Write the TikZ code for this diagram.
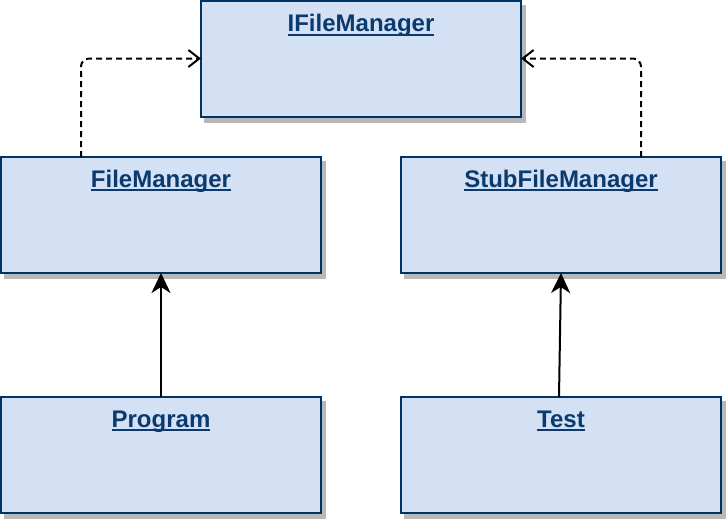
\documentclass[tikz,border=0pt]{standalone}
\usepackage{fontspec}
\setmainfont{Liberation Sans}
\usetikzlibrary{arrows.meta}
\definecolor{bordc}{HTML}{003366}
\definecolor{fillc}{HTML}{D4E1F5}
\definecolor{shadc}{HTML}{B8B8B8}
\definecolor{txtc}{HTML}{0B3A6E}
\tikzset{
  classbox/.style={draw=bordc, fill=fillc, line width=2pt, minimum width=320pt, minimum height=116pt, inner sep=0pt, outer sep=0pt},
  shadowbox/.style={draw=shadc, fill=shadc, line width=2pt, minimum width=320pt, minimum height=116pt, inner sep=0pt, outer sep=0pt},
  lbl/.style={inner sep=0pt, outer sep=0pt, text=txtc, font=\fontsize{24}{28}\selectfont\bfseries},
  uline/.style={draw=txtc, line width=2pt},
  realize/.style={draw=black, line width=2pt, dash pattern=on 6pt off 4pt, rounded corners=8pt, -{Straight Barb[length=11pt,width=17pt,line width=2pt]}},
  assoc/.style={draw=black, line width=2pt, -{Stealth[length=20pt,width=19pt,inset=6pt]}}
}
\begin{document}
\begin{tikzpicture}[x=1pt,y=-1pt]
\useasboundingbox (0,0) rectangle (726,520);
% shadows
\node[shadowbox] (IFMs) at (365,63.5) {};
\node[shadowbox] (FMs) at (165,220) {};
\node[shadowbox] (SFMs) at (565,220) {};
\node[shadowbox] (PRs) at (165,460) {};
\node[shadowbox] (TSs) at (565,460) {};
% boxes
\node[classbox] (IFM) at (361,58.5) {};
\node[classbox] (FM) at (161,215) {};
\node[classbox] (SFM) at (561,215) {};
\node[classbox] (PR) at (161,455) {};
\node[classbox] (TS) at (561,455) {};
% labels
\node[lbl, anchor=base] (IFMt) at ([yshift=-31pt]IFM.north) {IFileManager};
\node[lbl, anchor=base] (FMt) at ([yshift=-30pt]FM.north) {FileManager};
\node[lbl, anchor=base] (SFMt) at ([yshift=-30pt]SFM.north) {StubFileManager};
\node[lbl, anchor=base] (PRt) at ([yshift=-30pt]PR.north) {Program};
\node[lbl, anchor=base] (TSt) at ([yshift=-30pt]TS.north) {Test};
\foreach \t in {IFMt,FMt,SFMt,PRt,TSt}
  \draw[uline] ([yshift=-3pt]\t.base west) -- ([yshift=-3pt]\t.base east);
% connectors
\draw[realize] ([xshift=80pt]FM.north west) |- (IFM.west);
\draw[realize] ([xshift=-80pt]SFM.north east) |- (IFM.east);
\draw[assoc] (PR.north) -- (FM.south);
\draw[assoc] ([xshift=-2pt]TS.north) -- (SFM.south);
\end{tikzpicture}
\end{document}
